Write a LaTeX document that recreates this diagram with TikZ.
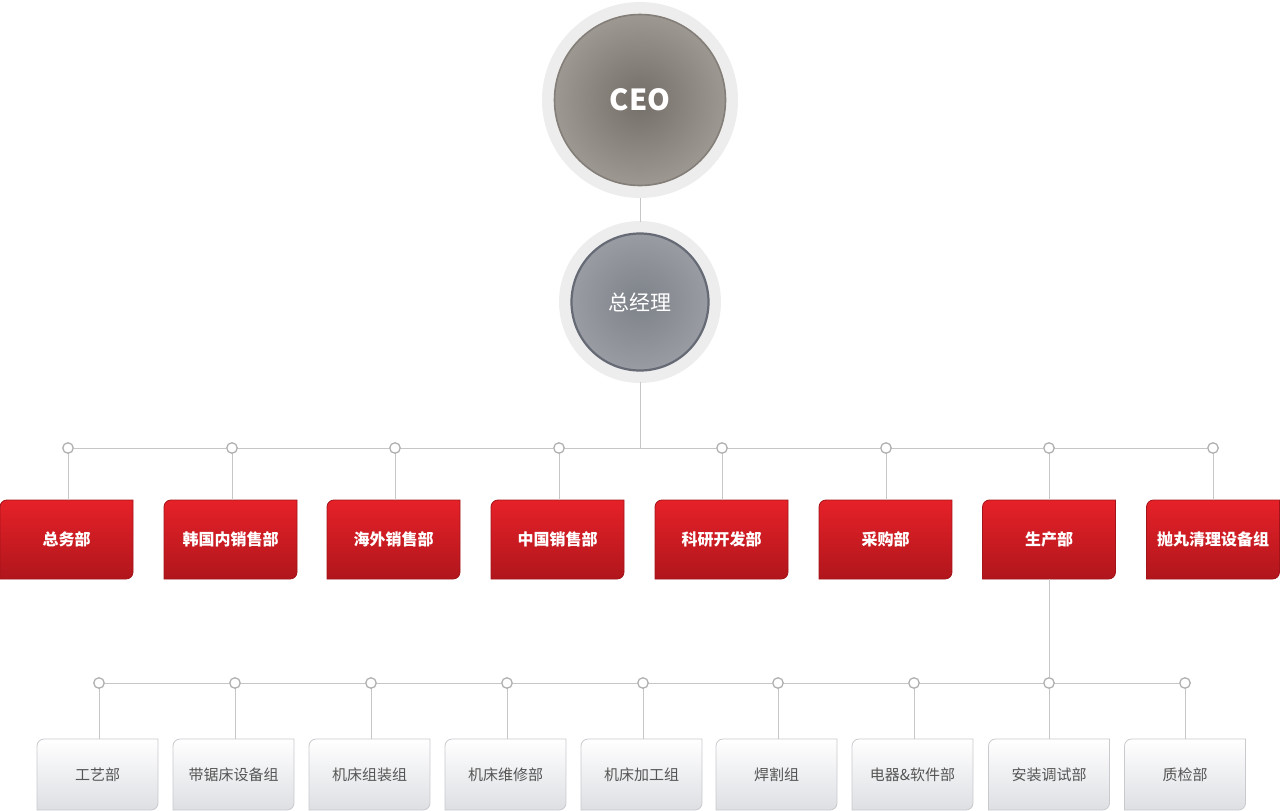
\documentclass[tikz,border=0pt]{standalone}
\usepackage{fontspec}
\newfontfamily\cjk{Noto Sans CJK SC}
\usetikzlibrary{positioning,backgrounds}
\definecolor{ringgrey}{HTML}{EDEDED}
\definecolor{linegrey}{HTML}{C6C6C6}
\definecolor{dotgrey}{HTML}{B0B0B0}
\definecolor{ceoin}{HTML}{746E68}
\definecolor{ceoout}{HTML}{9E9892}
\definecolor{ceorim}{HTML}{847E78}
\definecolor{gmin}{HTML}{7E8289}
\definecolor{gmout}{HTML}{999CA2}
\definecolor{gmrim}{HTML}{666A75}
\definecolor{redtop}{HTML}{E62128}
\definecolor{redbot}{HTML}{B0161C}
\definecolor{redline}{HTML}{A3141A}
\definecolor{teambot}{HTML}{DDDFE3}
\definecolor{teamline}{HTML}{C8CACE}
\definecolor{teamtext}{HTML}{555555}
\newcommand\tabnode[4]{%
  \node[#1] (#2) at (#3) {#4};
  \begin{pgfonlayer}{background}
    \shade[#1shade] ([yshift=-7pt]#2.north west) .. controls +(0,-3.9) and +(-3.9,0) .. ([xshift=7pt]#2.north west) -- (#2.north east) -- ([yshift=7pt]#2.south east) .. controls +(0,3.9) and +(3.9,0) .. ([xshift=-7pt]#2.south east) -- (#2.south west) -- cycle;
  \end{pgfonlayer}}
\begin{document}
\begin{tikzpicture}[x=1pt,y=-1pt]
        \tikzstyle{link}=[draw=linegrey, line width=1pt];
        \tikzstyle{dot}=[circle, draw=dotgrey, fill=white, line width=1.3pt, inner sep=0pt, minimum size=10.5pt];
        \tikzstyle{boss}=[circle, inner sep=0pt, text=white, preaction={draw=ringgrey, line width=25pt}, line width=1.6pt];
        \tikzstyle{dept}=[inner sep=0pt, outer sep=0pt, minimum width=133pt, minimum height=79pt, text=white, font=\cjk\bfseries\fontsize{16}{16}\selectfont];
        \tikzstyle{deptshade}=[top color=redtop, bottom color=redbot, draw=redline, line width=0.8pt];
        \tikzstyle{team}=[inner sep=0pt, outer sep=0pt, minimum width=121pt, minimum height=71pt, text=teamtext, font=\cjk\fontsize{15}{15}\selectfont];
        \tikzstyle{teamshade}=[top color=white, bottom color=teambot, draw=teamline, line width=0.8pt];
        \useasboundingbox (0,0) rectangle (1280,811);

        \node (ceo) [boss, minimum size=171pt, outer sep=12.5pt, inner color=ceoin, outer color=ceoout, draw=ceorim, font=\cjk\bfseries\fontsize{29}{29}\selectfont] at (640,100) {CEO};
        \node (gm) [boss, minimum size=137pt, outer sep=11.5pt, preaction={line width=23pt}, inner color=gmin, outer color=gmout, draw=gmrim, line width=2.2pt, font=\cjk\fontsize{21}{21}\selectfont] at (640,302) {总经理};
        \draw[link] (ceo) -- (gm);

        \node (a1) [dot] at (68,448) {};
        \node (a2) [dot] at (232,448) {};
        \node (a3) [dot] at (395,448) {};
        \node (a4) [dot] at (559,448) {};
        \node (a5) [dot] at (722,448) {};
        \node (a6) [dot] at (886,448) {};
        \node (a7) [dot] at (1049,448) {};
        \node (a8) [dot] at (1213,448) {};
        \draw[link] (a1) -- (a2) -- (a3) -- (a4) -- (a5) -- (a6) -- (a7) -- (a8);
        \draw[link] (gm) -- (gm |- a1);

        \tabnode{dept}{d1}{66.5,539.5}{总务部}
        \tabnode{dept}{d2}{230.5,539.5}{韩国内销售部}
        \tabnode{dept}{d3}{393.5,539.5}{海外销售部}
        \tabnode{dept}{d4}{557.5,539.5}{中国销售部}
        \tabnode{dept}{d5}{721.5,539.5}{科研开发部}
        \tabnode{dept}{d6}{885.5,539.5}{采购部}
        \tabnode{dept}{d7}{1049,539.5}{生产部}
        \tabnode{dept}{d8}{1213,539.5}{抛丸清理设备组}
        \draw[link] (a1) -- (a1 |- d1.north);
        \draw[link] (a2) -- (a2 |- d2.north);
        \draw[link] (a3) -- (a3 |- d3.north);
        \draw[link] (a4) -- (a4 |- d4.north);
        \draw[link] (a5) -- (a5 |- d5.north);
        \draw[link] (a6) -- (a6 |- d6.north);
        \draw[link] (a7) -- (d7);
        \draw[link] (a8) -- (d8);

        \node (b1) [dot] at (99,683) {};
        \node (b2) [dot] at (235,683) {};
        \node (b3) [dot] at (371,683) {};
        \node (b4) [dot] at (507,683) {};
        \node (b5) [dot] at (643,683) {};
        \node (b6) [dot] at (778,683) {};
        \node (b7) [dot] at (914,683) {};
        \node (b8) [dot] at (1049,683) {};
        \node (b9) [dot] at (1185,683) {};
        \draw[link] (b1) -- (b2) -- (b3) -- (b4) -- (b5) -- (b6) -- (b7) -- (b8) -- (b9);
        \draw[link] (d7) -- (b8);

        \tabnode{team}{t1}{97.5,774.5}{工艺部}
        \tabnode{team}{t2}{233.5,774.5}{带锯床设备组}
        \tabnode{team}{t3}{369.5,774.5}{机床组装组}
        \tabnode{team}{t4}{505.5,774.5}{机床维修部}
        \tabnode{team}{t5}{641.5,774.5}{机床加工组}
        \tabnode{team}{t6}{776.5,774.5}{焊割组}
        \tabnode{team}{t7}{912.5,774.5}{电器\&软件部}
        \tabnode{team}{t8}{1049,774.5}{安装调试部}
        \tabnode{team}{t9}{1185,774.5}{质检部}
        \draw[link] (b1) -- (b1 |- t1.north);
        \draw[link] (b2) -- (b2 |- t2.north);
        \draw[link] (b3) -- (b3 |- t3.north);
        \draw[link] (b4) -- (b4 |- t4.north);
        \draw[link] (b5) -- (b5 |- t5.north);
        \draw[link] (b6) -- (b6 |- t6.north);
        \draw[link] (b7) -- (b7 |- t7.north);
        \draw[link] (b8) -- (t8);
        \draw[link] (b9) -- (t9);
\end{tikzpicture}
\end{document}
